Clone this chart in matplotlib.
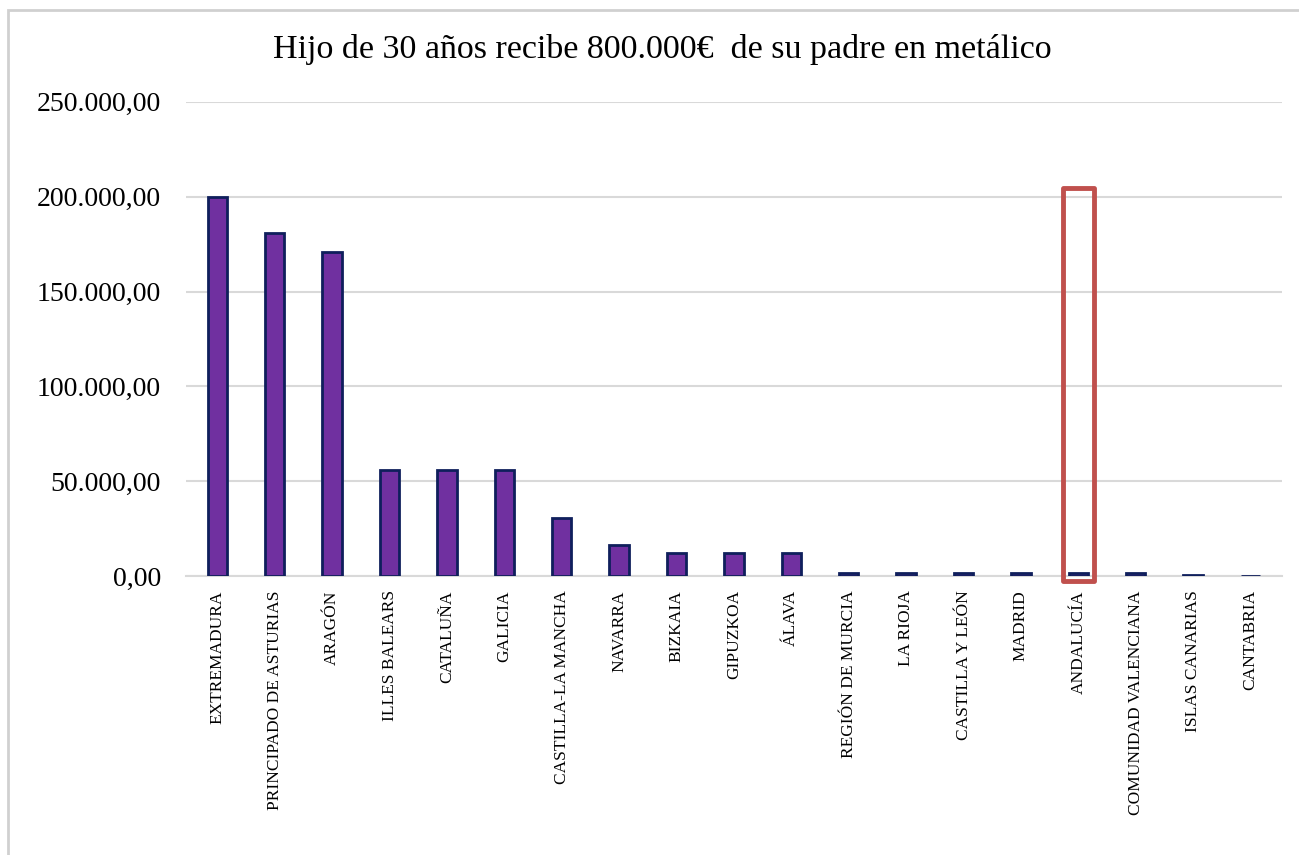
import matplotlib
matplotlib.use('Agg')
import matplotlib.pyplot as plt
from matplotlib.patches import Rectangle
from matplotlib.ticker import FuncFormatter

regiones = ['EXTREMADURA', 'PRINCIPADO DE ASTURIAS', 'ARAGÓN', 'ILLES BALEARS',
            'CATALUÑA', 'GALICIA', 'CASTILLA-LA MANCHA', 'NAVARRA', 'BIZKAIA',
            'GIPUZKOA', 'ÁLAVA', 'REGIÓN DE MURCIA', 'LA RIOJA', 'CASTILLA Y LEÓN',
            'MADRID', 'ANDALUCÍA', 'COMUNIDAD VALENCIANA', 'ISLAS CANARIAS', 'CANTABRIA']
impuesto = [200000, 181000, 171000, 56000, 56000, 56000, 30500, 16500, 12500,
            12500, 12500, 1800, 1800, 1800, 1800, 1800, 1800, 500, 0]
destacada = 'ANDALUCÍA'

plt.rcParams['font.family'] = ['Liberation Serif', 'DejaVu Serif']


def formato_es(v, pos):
    s = f'{v:,.2f}'
    return s.replace(',', 'X').replace('.', ',').replace('X', '.')


fig = plt.figure(figsize=(12.99, 8.55), dpi=100)
ax = fig.add_axes([0.143, 0.326, 0.844, 0.555])

x = list(range(len(regiones)))
ax.bar(x, impuesto, width=0.34, color='#7030a0', edgecolor='#0f1f5c', linewidth=2, zorder=3)

ax.set_ylim(0, 250000)
ax.set_xlim(-0.55, len(regiones) - 0.45)
ax.set_yticks([0, 50000, 100000, 150000, 200000, 250000])
ax.yaxis.set_major_formatter(FuncFormatter(formato_es))
ax.grid(axis='y', color='#d9d9d9', linewidth=1.5, zorder=0)
ax.set_xticks(x)
ax.set_xticklabels(regiones, rotation=90, fontsize=12.5)
ax.tick_params(axis='y', labelsize=20, length=0, pad=18)
ax.tick_params(axis='x', length=0, pad=10)
for s in ['top', 'right', 'left']:
    ax.spines[s].set_visible(False)
ax.spines['bottom'].set_color('#d9d9d9')
ax.spines['bottom'].set_linewidth(1.5)

i = regiones.index(destacada)
ax.add_patch(Rectangle((i - 0.27, -2500), 0.54, 207000, fill=False,
                       edgecolor='#c0504d', linewidth=3.5, clip_on=False, zorder=4,
                       joinstyle='round'))

fig.text(0.51, 0.942, 'Hijo de 30 años recibe 800.000€  de su padre en metálico',
         ha='center', va='center', fontsize=24.5)

fig.patches.append(Rectangle((0.006, -0.01), 1.0, 0.998, transform=fig.transFigure,
                             fill=False, edgecolor='#d0d0d0', linewidth=2))

fig.savefig('out.png', dpi=100)
